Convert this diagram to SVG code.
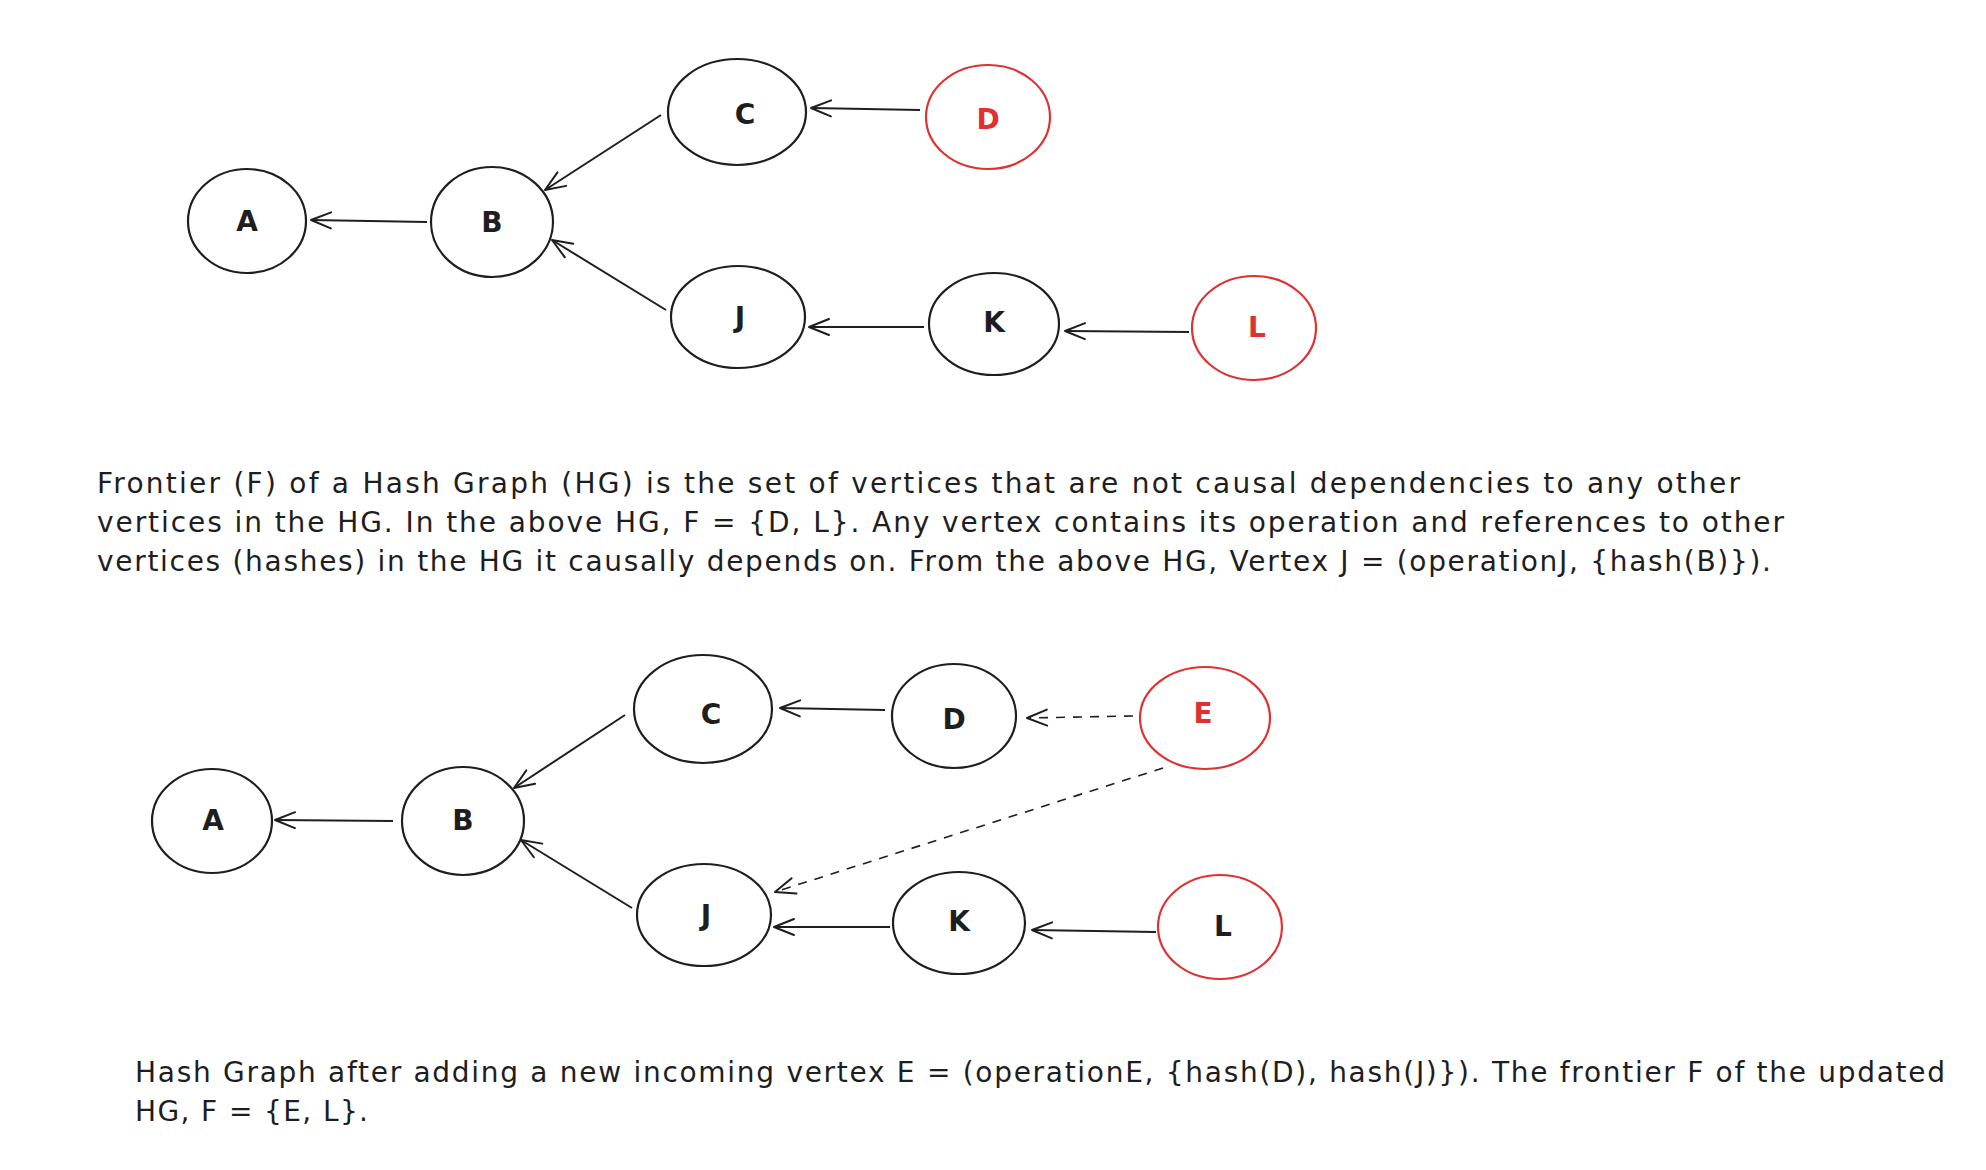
<svg xmlns="http://www.w3.org/2000/svg" width="1986" height="1170" viewBox="0 0 1986 1170">
<style>
.n{fill:none;stroke:#1e1e1e;stroke-width:2.2}
.r{fill:none;stroke:#e03131;stroke-width:2.2}
.lbl{font-family:"DejaVu Sans","Liberation Sans",sans-serif;font-size:28px;font-weight:bold;fill:#1e1e1e;text-anchor:middle;dominant-baseline:central}
.lr{fill:#e03131}
.e{fill:none;stroke:#1e1e1e;stroke-width:2;marker-end:url(#ah)}
.d{fill:none;stroke:#1e1e1e;stroke-width:1.6;stroke-dasharray:9 8;marker-end:url(#ah)}
.p{font-family:"DejaVu Sans","Liberation Sans",sans-serif;font-size:28px;fill:#1e1e1e}
</style>
<defs>
<marker id="ah" viewBox="0 0 24 20" refX="22" refY="10" markerWidth="24" markerHeight="20" markerUnits="userSpaceOnUse" orient="auto">
<path d="M2,2 L22,10 L2,18" fill="none" stroke="#1e1e1e" stroke-width="2" stroke-linecap="round" stroke-linejoin="round"/>
</marker>
</defs>
<rect width="1986" height="1170" fill="#ffffff"/>

<g id="connectors">
<line class="e" x1="427" y1="222" x2="311" y2="220"/>
<line class="e" x1="661" y1="115" x2="545" y2="190"/>
<line class="e" x1="666" y1="310" x2="552" y2="240"/>
<line class="e" x1="920" y1="110" x2="811" y2="108"/>
<line class="e" x1="924" y1="327" x2="809" y2="327"/>
<line class="e" x1="1189" y1="332" x2="1065" y2="331"/>

<line class="e" x1="393" y1="821" x2="275" y2="820"/>
<line class="e" x1="625" y1="715" x2="514" y2="788"/>
<line class="e" x1="632" y1="908" x2="521" y2="840"/>
<line class="e" x1="885" y1="710" x2="780" y2="708"/>
<line class="d" x1="1133" y1="716" x2="1027" y2="718"/>
<line class="d" x1="1163" y1="768" x2="775" y2="892"/>
<line class="e" x1="890" y1="927" x2="774" y2="927"/>
<line class="e" x1="1156" y1="932" x2="1032" y2="930"/>
</g>

<g id="top-A"><ellipse class="n" cx="247" cy="221" rx="59" ry="52"/><text class="lbl" x="247" y="221">A</text></g>
<g id="top-B"><ellipse class="n" cx="492" cy="222" rx="61" ry="55"/><text class="lbl" x="492" y="222">B</text></g>
<g id="top-C"><ellipse class="n" cx="737" cy="112" rx="69" ry="53"/><text class="lbl" x="745" y="114">C</text></g>
<g id="top-D"><ellipse class="r" cx="988" cy="117" rx="62" ry="52"/><text class="lbl lr" x="988" y="119">D</text></g>
<g id="top-J"><ellipse class="n" cx="738" cy="317" rx="67" ry="51"/><text class="lbl" x="740" y="317">J</text></g>
<g id="top-K"><ellipse class="n" cx="994" cy="324" rx="65" ry="51"/><text class="lbl" x="994" y="322">K</text></g>
<g id="top-L"><ellipse class="r" cx="1254" cy="328" rx="62" ry="52"/><text class="lbl lr" x="1257" y="327">L</text></g>

<g id="bottom-A"><ellipse class="n" cx="212" cy="821" rx="60" ry="52"/><text class="lbl" x="213" y="820">A</text></g>
<g id="bottom-B"><ellipse class="n" cx="463" cy="821" rx="61" ry="54"/><text class="lbl" x="463" y="820">B</text></g>
<g id="bottom-C"><ellipse class="n" cx="703" cy="709" rx="69" ry="54"/><text class="lbl" x="711" y="714">C</text></g>
<g id="bottom-D"><ellipse class="n" cx="954" cy="716" rx="62" ry="52"/><text class="lbl" x="954" y="719">D</text></g>
<g id="bottom-E"><ellipse class="r" cx="1205" cy="718" rx="65" ry="51"/><text class="lbl lr" x="1203" y="713">E</text></g>
<g id="bottom-J"><ellipse class="n" cx="704" cy="915" rx="67" ry="51"/><text class="lbl" x="706" y="915">J</text></g>
<g id="bottom-K"><ellipse class="n" cx="959" cy="923" rx="66" ry="51"/><text class="lbl" x="959" y="921">K</text></g>
<g id="bottom-L"><ellipse class="r" cx="1220" cy="927" rx="62" ry="52"/><text class="lbl" x="1223" y="926">L</text></g>

<g id="description-top">
<text class="p" x="97" y="493" textLength="1643" lengthAdjust="spacing">Frontier (F) of a Hash Graph (HG) is the set of vertices that are not causal dependencies to any other</text>
<text class="p" x="97" y="532" textLength="1687" lengthAdjust="spacing">vertices in the HG. In the above HG, F = {D, L}. Any vertex contains its operation and references to other</text>
<text class="p" x="97" y="571" textLength="1674" lengthAdjust="spacing">vertices (hashes) in the HG it causally depends on. From the above HG, Vertex J = (operationJ, {hash(B)}).</text>
</g>
<g id="description-bottom">
<text class="p" x="135" y="1082" textLength="1810" lengthAdjust="spacing">Hash Graph after adding a new incoming vertex E = (operationE, {hash(D), hash(J)}). The frontier F of the updated</text>
<text class="p" x="135" y="1121" textLength="233" lengthAdjust="spacing">HG, F = {E, L}.</text>
</g>
</svg>
